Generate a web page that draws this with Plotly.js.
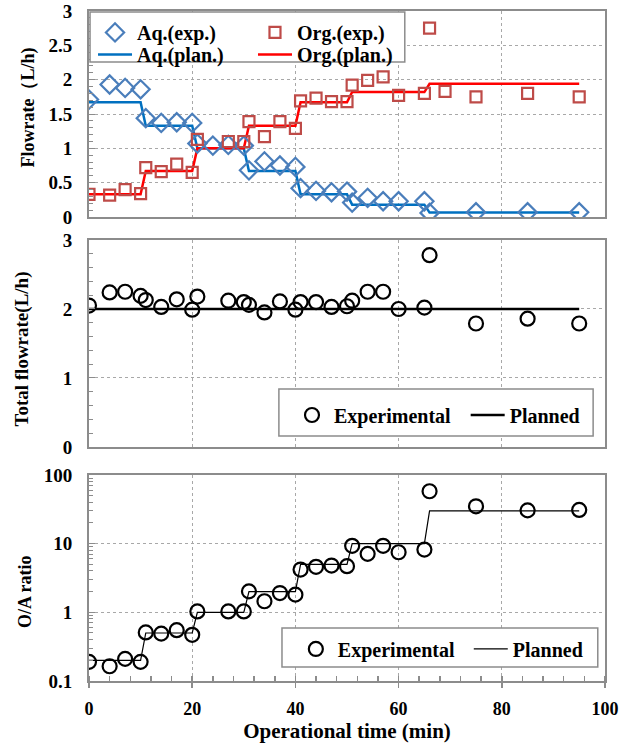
<!DOCTYPE html>
<html>
<head>
<meta charset="utf-8">
<script src="https://cdn.plot.ly/plotly-3.0.1.min.js"></script>
<style>html,body{margin:0;padding:0;background:#fff;}</style>
</head>
<body>
<div id="chart" style="width:622px;height:747px;"></div>
<script>
// ---- data ----
const timeAq = [0,4,7,10,11,14,17,20,21,24,27,30,31,34,37,40,41,44,47,50,51,54,57,60,65,66,75,85,95];
const aqExp  = [1.71,1.93,1.88,1.86,1.44,1.37,1.38,1.37,1.07,1.04,1.05,1.04,0.68,0.81,0.75,0.73,0.42,0.38,0.36,0.37,0.21,0.28,0.23,0.23,0.23,0.06,0.07,0.07,0.07];

const timeOrg = [0,4,7,10,11,14,17,20,21,27,30,31,34,37,40,41,44,47,50,51,54,57,60,65,66,69,75,85,95];
const orgExp  = [0.33,0.32,0.40,0.34,0.72,0.66,0.77,0.65,1.13,1.10,1.10,1.39,1.17,1.39,1.29,1.69,1.73,1.68,1.68,1.92,1.99,2.04,1.77,1.80,2.75,1.83,1.75,1.80,1.75];

const planTime = [0,10,11,20,21,30,31,40,41,50,51,65,66,95];
const aqPlan   = [1.67,1.67,1.33,1.33,1.0,1.0,0.67,0.67,0.33,0.33,0.18,0.18,0.065,0.065];
const orgPlan  = [0.33,0.33,0.67,0.67,1.0,1.0,1.33,1.33,1.67,1.67,1.82,1.82,1.94,1.94];

const timeTot  = [0,4,7,10,11,14,17,20,21,27,30,31,34,37,40,41,44,47,50,51,54,57,60,65,66,75,85,95];
const totalExp = [2.05,2.24,2.25,2.19,2.13,2.03,2.14,1.99,2.18,2.12,2.10,2.06,1.95,2.11,1.99,2.10,2.10,2.03,2.04,2.12,2.25,2.25,2.00,2.02,2.78,1.79,1.86,1.79];
const totalPlanTime = [0,95];
const totalPlan = [2,2];

const oaExp  = [0.19,0.164,0.21,0.19,0.51,0.49,0.55,0.47,1.03,1.03,1.03,2.02,1.45,1.91,1.81,4.2,4.6,4.8,4.7,9.3,7.1,9.3,7.5,8.2,58,35,30.5,31];
const oaPlan = [0.2,0.2,0.5,0.5,1,1,2,2,5,5,10,10,30,30];

const xTicks = [0,20,40,60,80,100];
const yTitles = ['Flowrate（L/h)', 'Total flowrate(L/h)', 'O/A ratio'];
const xTitle = 'Operational time (min)';

// ---- styling ----
const FONT = 'Liberation Serif, "Times New Roman", serif';
const AXC = '#8c8c8c';
const GRID = '#a8a8a8';
const legFont = {family: FONT, size: 20, color: 'black', weight: 'bold'};

const traces = [
  {x: planTime, y: aqPlan, xaxis:'x', yaxis:'y', mode:'lines', name:'Aq.(plan.)',
   line:{color:'#0070C0', width:2.5}, legend:'legend3'},
  {x: planTime, y: orgPlan, xaxis:'x', yaxis:'y', mode:'lines', name:'Org.(plan.)',
   line:{color:'#FF0000', width:2.5}, legend:'legend4'},
  {x: timeAq, y: aqExp, xaxis:'x', yaxis:'y', mode:'markers', name:'Aq.(exp.)',
   marker:{symbol:'diamond-open', size:14, color:'#4A7EBB', line:{width:2.2}}, legend:'legend'},
  {x: timeOrg, y: orgExp, xaxis:'x', yaxis:'y', mode:'markers', name:'Org.(exp.)',
   marker:{symbol:'square-open', size:11, color:'#BE4B48', line:{width:2.2}}, legend:'legend2'},

  {x: totalPlanTime, y: totalPlan, xaxis:'x2', yaxis:'y2', mode:'lines', name:'Planned',
   line:{color:'black', width:2.5}, legend:'legend6'},
  {x: timeTot, y: totalExp, xaxis:'x2', yaxis:'y2', mode:'markers', name:'Experimental',
   marker:{symbol:'circle-open', size:14, color:'black', line:{width:2.2}}, legend:'legend5'},

  {x: planTime, y: oaPlan, xaxis:'x3', yaxis:'y3', mode:'lines', name:'Planned',
   line:{color:'black', width:1.2}, legend:'legend8'},
  {x: timeTot, y: oaExp, xaxis:'x3', yaxis:'y3', mode:'markers', name:'Experimental',
   marker:{symbol:'circle-open', size:14, color:'black', line:{width:2.2}}, legend:'legend7'}
];

function xax(anchor, labels){
  return {anchor: anchor, domain:[0,1], range:[0,100], tickvals: xTicks, ticktext: xTicks.map(String),
    showticklabels: labels, showgrid:true, gridcolor:GRID, griddash:'dot', gridwidth:1,
    zeroline:false, showline:true, linecolor:AXC, linewidth:2, mirror:true,
    ticks: labels ? 'outside' : '', ticklen:5, tickcolor:AXC, tickwidth:1.5,
    ticklabelstandoff: 5,
    minor: labels ? {ticks:'inside', ticklen:5, dtick:4, tickcolor:AXC, showgrid:false} : undefined};
}
function yax(anchor, domain, extra){
  return Object.assign({anchor:anchor, domain:domain,
    showgrid:true, gridcolor:GRID, griddash:'dot', zeroline:false,
    showline:true, linecolor:AXC, linewidth:2, mirror:true, ticks:'inside', ticklen:6, tickcolor:AXC,
    ticklabelstandoff:11, tickfont:{family:FONT, size:19, color:'black', weight:'bold'}}, extra);
}
function leg(x, y){
  return {x:x, y:y, xanchor:'left', yanchor:'middle', orientation:'h', bgcolor:'rgba(0,0,0,0)',
    borderwidth:0, font:legFont, itemwidth:34, tracegroupgap:0};
}
function ytitle(text, x, y, size){
  return {text:text, xref:'paper', yref:'paper', x:x, y:y, xanchor:'center', yanchor:'middle',
    textangle:-90, showarrow:false, font:{family:FONT, size:size, color:'black', weight:'bold'}};
}

const layout = {
  width:622, height:747,
  margin:{l:89, r:17, t:11, b:66},
  paper_bgcolor:'white', plot_bgcolor:'white',
  showlegend:true,
  font:{family:FONT, size:18, color:'black', weight:'bold'},
  xaxis: xax('y', false),
  xaxis2: xax('y2', false),
  xaxis3: Object.assign(xax('y3', true), {title:{text:xTitle, font:{family:FONT, size:21, weight:'bold'}, standoff:4}}),
  yaxis: yax('x', [0.6925,1], {range:[0,3], dtick:0.5,
    minor:{ticks:'inside', ticklen:4, dtick:0.1, tickcolor:AXC, showgrid:false}}),
  yaxis2: yax('x2', [0.3493,0.6582], {range:[0,3], dtick:1,
    minor:{ticks:'inside', ticklen:4, dtick:0.2, tickcolor:AXC, showgrid:false}}),
  yaxis3: yax('x3', [0,0.3075], {type:'log', range:[-1,2], dtick:1,
    minor:{ticks:'inside', ticklen:4, dtick:'D1', tickcolor:AXC, showgrid:false}}),
  legend:  leg(0.0078, 0.968),
  legend2: leg(0.3178, 0.968),
  legend3: leg(0.0078, 0.935),
  legend4: leg(0.3178, 0.935),
  legend5: leg(0.3895, 0.397),
  legend6: leg(0.730, 0.397),
  legend7: leg(0.397, 0.0478),
  legend8: leg(0.736, 0.0478),
  annotations: [
    ytitle(yTitles[0], -0.1182, 0.8560, 18),
    ytitle(yTitles[1], -0.1298, 0.4948, 19),
    ytitle(yTitles[2], -0.1240, 0.1328, 18)
  ],
  shapes: [
    {type:'rect', xref:'paper', yref:'paper', x0:0.002, x1:0.612, y0:0.924, y1:0.9985,
     line:{color:'#8c8c8c', width:1.5}, fillcolor:'white', layer:'above'},
    {type:'rect', xref:'paper', yref:'paper', x0:0.368, x1:0.977, y0:0.3657, y1:0.4358,
     line:{color:'#8c8c8c', width:1.5}, fillcolor:'white', layer:'above'},
    {type:'rect', xref:'paper', yref:'paper', x0:0.374, x1:0.986, y0:0.0209, y1:0.0791,
     line:{color:'#8c8c8c', width:1.5}, fillcolor:'white', layer:'above'}
  ]
};

Plotly.newPlot('chart', traces, layout, {displayModeBar:false, staticPlot:true});
</script>
</body>
</html>
